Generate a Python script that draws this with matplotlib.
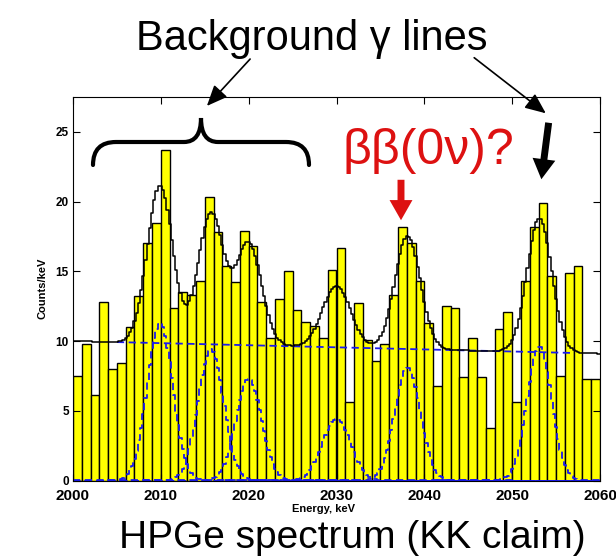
import numpy as np
import matplotlib
matplotlib.use('Agg')
import matplotlib.pyplot as plt
from matplotlib.patches import FancyArrowPatch, PathPatch
from matplotlib.path import Path

plt.rcParams['font.family'] = ['Liberation Sans', 'DejaVu Sans']

# spectrum, 1 keV bins starting at 2000 keV
energy = np.arange(2000, 2060)
counts = [7.5, 9.8, 6.15, 12.8, 8.0, 8.4, 11.0, 13.2, 17.0, 18.5,
          23.7, 12.4, 13.5, 13.3, 14.3, 20.3, 17.8, 15.4, 14.2, 17.9,
          16.8, 12.8, 10.2, 13.0, 15.0, 12.2, 11.4, 11.1, 10.2, 15.1,
          16.7, 5.6, 12.7, 10.1, 8.6, 9.8, 13.3, 18.2, 17.0, 14.3,
          11.3, 6.75, 12.5, 12.35, 7.45, 10.25, 7.45, 3.8, 10.85, 12.1,
          5.6, 14.3, 18.15, 19.9, 14.7, 7.5, 14.9, 15.4, 7.3, 7.3]

# fit: linear background + gaussian lines
bg_left, bg_right = 10.0, 9.1
peak_e = [2009.9, 2015.7, 2020.0, 2030.0, 2038.1, 2053.1]
peak_amp = [11.3, 9.4, 7.3, 4.4, 8.1, 9.6]
peak_sigma = [1.45, 1.45, 1.45, 1.6, 1.45, 1.4]

W, H = 616, 556
def fx(x, y):
    return (x / W, 1 - y / H)

fig = plt.figure(figsize=(W / 100, H / 100), dpi=100)
ax = fig.add_axes([73 / W, 1 - 480.5 / H, 527 / W, 383.5 / H])

ax.bar(energy, counts, width=1, align='edge', color='#ffff00',
       edgecolor='black', linewidth=1.0, zorder=1)

e = np.arange(2000, 2060.001, 0.25)
bg = bg_left + (bg_right - bg_left) * (e - 2000) / 60.0
total = bg.copy()
comps = []
for c, a, s in zip(peak_e, peak_amp, peak_sigma):
    g = a * np.exp(-0.5 * ((e - c) / s) ** 2)
    comps.append(g)
    total += g

ax.plot(e, total, color='black', lw=1.1, drawstyle='steps-mid', zorder=3)
blue = '#1a1aee'
for g in comps:
    ax.plot(e, g, color=blue, lw=1.3, ls=(0, (4, 2.5)),
            drawstyle='steps-mid', zorder=2, clip_on=False)
m = (e >= 2005) & (e <= 2057)
ax.plot(e[m], bg[m], color=blue, lw=1.3, ls=(0, (4, 2.5)), zorder=2)

ax.set_xlim(2000, 2060)
ax.set_ylim(0, 27.5)
ax.set_xticks(range(2000, 2061, 10))
ax.set_yticks(range(0, 26, 5))
ax.tick_params(direction='in', top=True, right=True, length=5, width=0.8)
ax.tick_params(axis='x', labelsize=11, pad=6)
ax.tick_params(axis='y', labelsize=8.5, pad=3)
for lab in ax.get_xticklabels() + ax.get_yticklabels():
    lab.set_fontweight('bold')
ax.set_xlabel('Energy, keV', fontsize=8, fontweight='bold', labelpad=2)
ax.xaxis.set_label_coords(0.475, -0.06)
ax.set_ylabel('Counts/keV', fontsize=8, fontweight='bold', labelpad=6)

# annotations
fig.text(*fx(312, 50), 'Background \u03b3 lines', fontsize=30,
         ha='center', va='baseline')
fig.text(*fx(352, 548), 'HPGe spectrum (KK claim)', fontsize=28,
         ha='center', va='baseline')
red = '#dd1111'
fig.text(*fx(342, 164), '\u03b2\u03b2(0\u03bd)?', fontsize=36, color=red,
         ha='left', va='baseline')

# curly brace
verts = [fx(93, 165), fx(93, 142), fx(116, 142), fx(184, 142),
         fx(201, 142), fx(201, 118), fx(201, 142), fx(218, 142),
         fx(286, 142), fx(309, 142), fx(309, 165)]
codes = [Path.MOVETO, Path.CURVE3, Path.CURVE3, Path.LINETO,
         Path.CURVE3, Path.CURVE3, Path.CURVE3, Path.CURVE3,
         Path.LINETO, Path.CURVE3, Path.CURVE3]
fig.add_artist(PathPatch(Path(verts, codes), fill=False, lw=3,
                         transform=fig.transFigure, capstyle='round'))

thin = dict(arrowstyle='-|>,head_length=0.7,head_width=0.3',
            mutation_scale=18, lw=1.2, color='black',
            transform=fig.transFigure)
fig.add_artist(FancyArrowPatch(fx(252, 57), fx(205, 108), **thin))
fig.add_artist(FancyArrowPatch(fx(472, 56), fx(548, 115), **thin))

thick = 'simple,tail_width=0.5,head_width=1.65,head_length=1.45'
fig.add_artist(FancyArrowPatch(fx(549, 120), fx(541, 182), arrowstyle=thick,
                               mutation_scale=10, color='black', lw=0,
                               transform=fig.transFigure))
fig.add_artist(FancyArrowPatch(fx(401, 177), fx(401, 223), arrowstyle=thick,
                               mutation_scale=10, color=red, lw=0,
                               transform=fig.transFigure))

fig.savefig('out.png', dpi=100)
